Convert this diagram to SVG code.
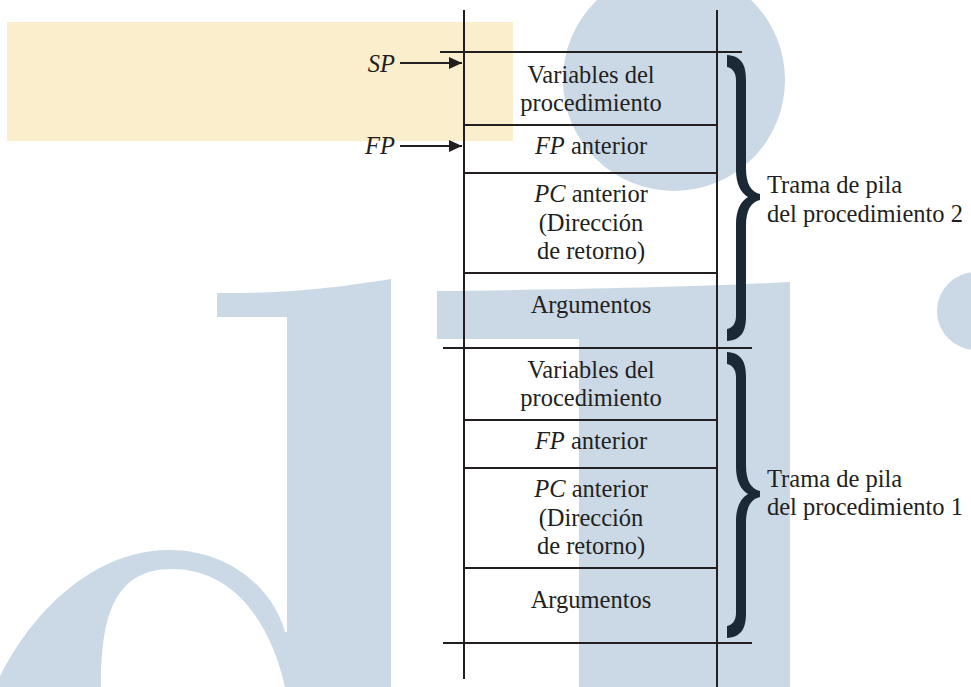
<svg xmlns="http://www.w3.org/2000/svg" width="971" height="687" viewBox="0 0 971 687">
<defs>
<style>
.bg{fill:#CBD9E6}
.ln{stroke:#231F20;stroke-width:2;fill:none}
.t{font-family:"Liberation Serif","Times New Roman",serif;font-size:24.5px;fill:#231F20;text-anchor:middle}
.lbl{font-family:"Liberation Serif","Times New Roman",serif;font-size:24.5px;fill:#231F20}
.it{font-style:italic}
.br{fill:#1B2835}
</style>
<marker id="ah" markerWidth="14" markerHeight="12" refX="13" refY="6" orient="auto" markerUnits="userSpaceOnUse">
<path d="M0,0 L13,6 L0,12 Z" fill="#231F20"/>
</marker>
<path id="brace" d="M 727 55 C 741 56 746 64 746 80 L 746 168 C 746 184 751 192 760 194 L 760 200 C 751 202 746 210 746 226 L 746 316 C 746 332 741 340 727 341 L 727 329 C 732 328 736 324 736 316 L 736 224 C 736 210 741 201 748 197 C 741 193 736 184 736 170 L 736 80 C 736 72 732 68 727 67 Z"/>
</defs>
<rect width="971" height="687" fill="#FFFFFF"/>
<g id="background">
<circle class="bg" cx="674" cy="80" r="111"/>
<circle class="bg" cx="976" cy="311" r="39"/>
<path class="bg" fill-rule="evenodd" d="M -5 687 C 30 610 95 551 167 550 C 225 549 272 585 285 632 L 287 632 L 287 317 L 217 317 L 217 293 C 290 294 340 287 391 279 L 391 687 Z M 101 687 C 101 620 112 569 172 569 C 232 569 270 620 285 687 Z"/>
<path class="bg" d="M 437 291 C 550 290 700 287 790 282 L 790 687 L 579 687 L 579 339 L 437 339 Z"/>
<rect x="7" y="22" width="506" height="119" fill="#FBEECC"/>
</g>
<g id="stack">
<line class="ln" x1="464" y1="10" x2="464" y2="679"/>
<line class="ln" x1="717" y1="10" x2="717" y2="687"/>
<line class="ln" x1="440" y1="52" x2="742" y2="52"/>
<line class="ln" x1="464" y1="125" x2="717" y2="125"/>
<line class="ln" x1="464" y1="173" x2="717" y2="173"/>
<line class="ln" x1="464" y1="273" x2="717" y2="273"/>
<line class="ln" x1="443" y1="348" x2="752" y2="348"/>
<line class="ln" x1="464" y1="420" x2="717" y2="420"/>
<line class="ln" x1="464" y1="468" x2="717" y2="468"/>
<line class="ln" x1="464" y1="568" x2="717" y2="568"/>
<line class="ln" x1="443" y1="643" x2="752" y2="643"/>
</g>
<g id="p2-vars"><text class="t" x="591" y="83">Variables del</text><text class="t" x="591" y="111">procedimiento</text></g>
<g id="p2-fp"><text class="t" x="591" y="154"><tspan class="it">FP</tspan> anterior</text></g>
<g id="p2-pc"><text class="t" x="591" y="202"><tspan class="it">PC</tspan> anterior</text><text class="t" x="591" y="231">(Dirección</text><text class="t" x="591" y="259">de retorno)</text></g>
<g id="p2-args"><text class="t" x="591" y="313">Argumentos</text></g>
<g id="p1-vars"><text class="t" x="591" y="378">Variables del</text><text class="t" x="591" y="406">procedimiento</text></g>
<g id="p1-fp"><text class="t" x="591" y="449"><tspan class="it">FP</tspan> anterior</text></g>
<g id="p1-pc"><text class="t" x="591" y="497"><tspan class="it">PC</tspan> anterior</text><text class="t" x="591" y="526">(Dirección</text><text class="t" x="591" y="554">de retorno)</text></g>
<g id="p1-args"><text class="t" x="591" y="608">Argumentos</text></g>
<g id="sp"><text class="lbl it" x="395" y="72" text-anchor="end">SP</text></g>
<g id="fp"><text class="lbl it" x="395" y="154" text-anchor="end">FP</text></g>
<g id="connectors">
<line class="ln" x1="400" y1="63" x2="462" y2="63" marker-end="url(#ah)"/>
<line class="ln" x1="400" y1="146" x2="462" y2="146" marker-end="url(#ah)"/>
</g>
<g id="frame2">
<use href="#brace" class="br"/>
<text class="lbl" x="767" y="193">Trama de pila</text>
<text class="lbl" x="767" y="222">del procedimiento 2</text>
</g>
<g id="frame1">
<use href="#brace" class="br" transform="translate(0,297)"/>
<text class="lbl" x="767" y="487">Trama de pila</text>
<text class="lbl" x="767" y="515">del procedimiento 1</text>
</g>
</svg>
